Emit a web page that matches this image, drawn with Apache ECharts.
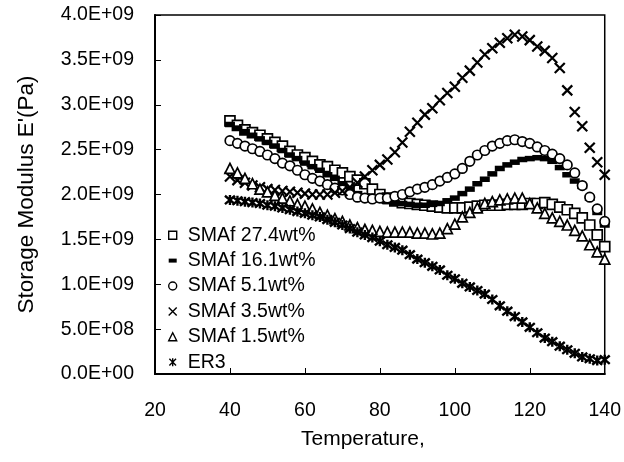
<!DOCTYPE html>
<html>
<head>
<meta charset="utf-8">
<script src="https://cdn.jsdelivr.net/npm/echarts@6/dist/echarts.min.js"></script>
<style>
html,body{margin:0;padding:0;background:#fff;}
#chart{width:624px;height:462px;}
</style>
</head>
<body>
<div id="chart"></div>
<script>
// Temperature (°C)
const temps = [40,42,44,46,48,50,52,54,56,58,60,62,64,66,68,70,72,74,76,78,80,82,84,86,88,90,92,94,96,98,100,102,104,106,108,110,112,114,116,118,120,122,124,126,128,130,132,134,136,138,140];
// Storage modulus E' in units of 1E+09 Pa
const smaf274 = [2.82,2.77,2.72,2.69,2.66,2.62,2.58,2.54,2.48,2.44,2.41,2.37,2.33,2.31,2.27,2.24,2.20,2.16,2.12,2.06,2.00,1.96,1.93,1.91,1.90,1.89,1.88,1.87,1.86,1.85,1.85,1.85,1.86,1.87,1.88,1.88,1.88,1.89,1.89,1.89,1.90,1.90,1.91,1.89,1.86,1.83,1.79,1.74,1.66,1.55,1.42];
const smaf161 = [2.78,2.74,2.70,2.66,2.62,2.58,2.54,2.49,2.44,2.40,2.35,2.31,2.27,2.22,2.18,2.12,2.06,2.01,1.98,1.96,1.94,1.92,1.91,1.90,1.89,1.88,1.88,1.89,1.90,1.93,1.96,2.01,2.06,2.12,2.17,2.23,2.29,2.33,2.36,2.39,2.40,2.41,2.40,2.37,2.30,2.22,2.15,2.09,1.96,1.80,1.66];
const smaf51 = [2.60,2.57,2.54,2.51,2.48,2.44,2.40,2.35,2.32,2.27,2.22,2.18,2.15,2.11,2.07,2.05,2.00,1.97,1.96,1.95,1.96,1.96,1.98,2.00,2.03,2.06,2.08,2.11,2.15,2.19,2.23,2.29,2.37,2.44,2.49,2.54,2.57,2.60,2.61,2.59,2.57,2.53,2.49,2.45,2.40,2.33,2.24,2.10,1.97,1.84,1.70];
const smaf35 = [2.20,2.16,2.13,2.10,2.08,2.06,2.05,2.04,2.03,2.02,2.01,2.00,2.00,2.00,2.02,2.04,2.08,2.13,2.20,2.27,2.33,2.39,2.47,2.58,2.70,2.80,2.89,2.96,3.05,3.13,3.20,3.30,3.38,3.47,3.56,3.63,3.69,3.74,3.78,3.76,3.72,3.65,3.60,3.52,3.41,3.16,2.92,2.76,2.52,2.36,2.22];
const smaf15 = [2.29,2.24,2.18,2.12,2.06,2.03,1.99,1.96,1.93,1.89,1.87,1.84,1.80,1.77,1.73,1.70,1.66,1.63,1.61,1.60,1.59,1.58,1.58,1.58,1.58,1.57,1.57,1.56,1.57,1.62,1.67,1.75,1.80,1.85,1.90,1.92,1.94,1.95,1.96,1.96,1.90,1.85,1.79,1.74,1.70,1.66,1.60,1.54,1.44,1.36,1.28];
const er3 = [1.94,1.93,1.92,1.91,1.90,1.88,1.87,1.85,1.83,1.81,1.79,1.77,1.75,1.72,1.69,1.66,1.62,1.58,1.55,1.52,1.48,1.44,1.41,1.38,1.33,1.28,1.24,1.20,1.16,1.10,1.06,1.01,0.97,0.93,0.89,0.83,0.76,0.70,0.64,0.58,0.52,0.46,0.40,0.36,0.31,0.27,0.23,0.19,0.17,0.15,0.16];
const seriesNames = ['SMAf 27.4wt%','SMAf 16.1wt%','SMAf 5.1wt%','SMAf 3.5wt%','SMAf 1.5wt%','ER3'];
const xTicks = {min:20, max:140, step:20};
const yTicks = {min:0, max:4e9, step:5e8};

const FONT = '"Liberation Sans", Arial, sans-serif';
const CROSS = 'path://M0,0L10,10M10,0L0,10';
const STAR = 'path://M0,0L10,10M10,0L0,10M5,-1L5,11';

function pairs(vals){ return temps.map((t,i)=>[t, vals[i]*1e9]); }

const styles = [
  {symbol:'rect', size:10, item:{color:'#fff', borderColor:'#000', borderWidth:1.7}, legendIcon:'rect'},
  {symbol:'rect', size:[10,5.5], item:{color:'#000', borderColor:'#000', borderWidth:0}, legendIcon:'path://M0,0L10,0L10,5L0,5Z'},
  {symbol:'circle', size:9.5, item:{color:'#fff', borderColor:'#000', borderWidth:1.7}, legendIcon:'circle'},
  {symbol:CROSS, size:10, item:{color:'#000', borderColor:'#000', borderWidth:2.2}, legendIcon:CROSS},
  {symbol:'triangle', size:10, item:{color:'#fff', borderColor:'#000', borderWidth:1.7}, legendIcon:'triangle'},
  {symbol:STAR, size:10, item:{color:'#000', borderColor:'#000', borderWidth:2.4}, legendIcon:STAR}
];
const dataSets = [smaf274, smaf161, smaf51, smaf35, smaf15, er3];

function sciFmt(v){
  if (v === 0) return '0.0E+00';
  let e = Math.floor(Math.log10(v) + 1e-9);
  let m = v / Math.pow(10, e);
  return m.toFixed(1) + 'E+' + (e < 10 ? '0' + e : e);
}

const chart = echarts.init(document.getElementById('chart'), null, {renderer:'canvas'});
chart.setOption({
  animation:false,
  backgroundColor:'#fff',
  grid:{left:155, right:19, top:15, bottom:88, show:true, borderColor:'#000', borderWidth:1.5, backgroundColor:'transparent'},
  xAxis:{
    type:'value', min:xTicks.min, max:xTicks.max, interval:xTicks.step,
    name:'Temperature,', nameLocation:'middle', nameGap:55,
    nameTextStyle:{fontFamily:FONT, fontSize:21, color:'#000', padding:[0,34,0,0]},
    axisLine:{show:true, onZero:false, lineStyle:{color:'#000', width:2}},
    axisTick:{show:true, inside:true, length:6, lineStyle:{color:'#000', width:1}},
    axisLabel:{fontFamily:FONT, fontSize:19.5, color:'#000', margin:27},
    splitLine:{show:false}
  },
  yAxis:{
    type:'value', min:yTicks.min, max:yTicks.max, interval:yTicks.step,
    name:"Storage Modulus E'(Pa)", nameLocation:'middle', nameGap:117,
    nameTextStyle:{fontFamily:FONT, fontSize:22.5, color:'#000'},
    axisLine:{show:true, lineStyle:{color:'#000', width:2}},
    axisTick:{show:true, inside:true, length:6, lineStyle:{color:'#000', width:1}},
    axisLabel:{fontFamily:FONT, fontSize:19.5, color:'#000', margin:21, formatter:sciFmt},
    splitLine:{show:false}
  },
  legend:{
    orient:'vertical', left:168, top:225, itemWidth:8, itemHeight:8, itemGap:5,
    padding:0,
    textStyle:{fontFamily:FONT, fontSize:19.5, color:'#000', lineHeight:20.4, padding:[0,0,0,6]},
    selectedMode:false,
    data: seriesNames.map((n,i)=>({name:n, icon:styles[i].legendIcon, itemStyle:Object.assign({}, styles[i].item, {borderWidth: styles[i].item.borderWidth ? 1.4 : 0})}))
  },
  series: seriesNames.map((n,i)=>({
    name:n, type:'scatter', clip:false,
    symbol:styles[i].symbol, symbolSize:styles[i].size,
    itemStyle:Object.assign({opacity:1}, styles[i].item),
    emphasis:{disabled:true},
    data:pairs(dataSets[i])
  }))
});
</script>
</body>
</html>
